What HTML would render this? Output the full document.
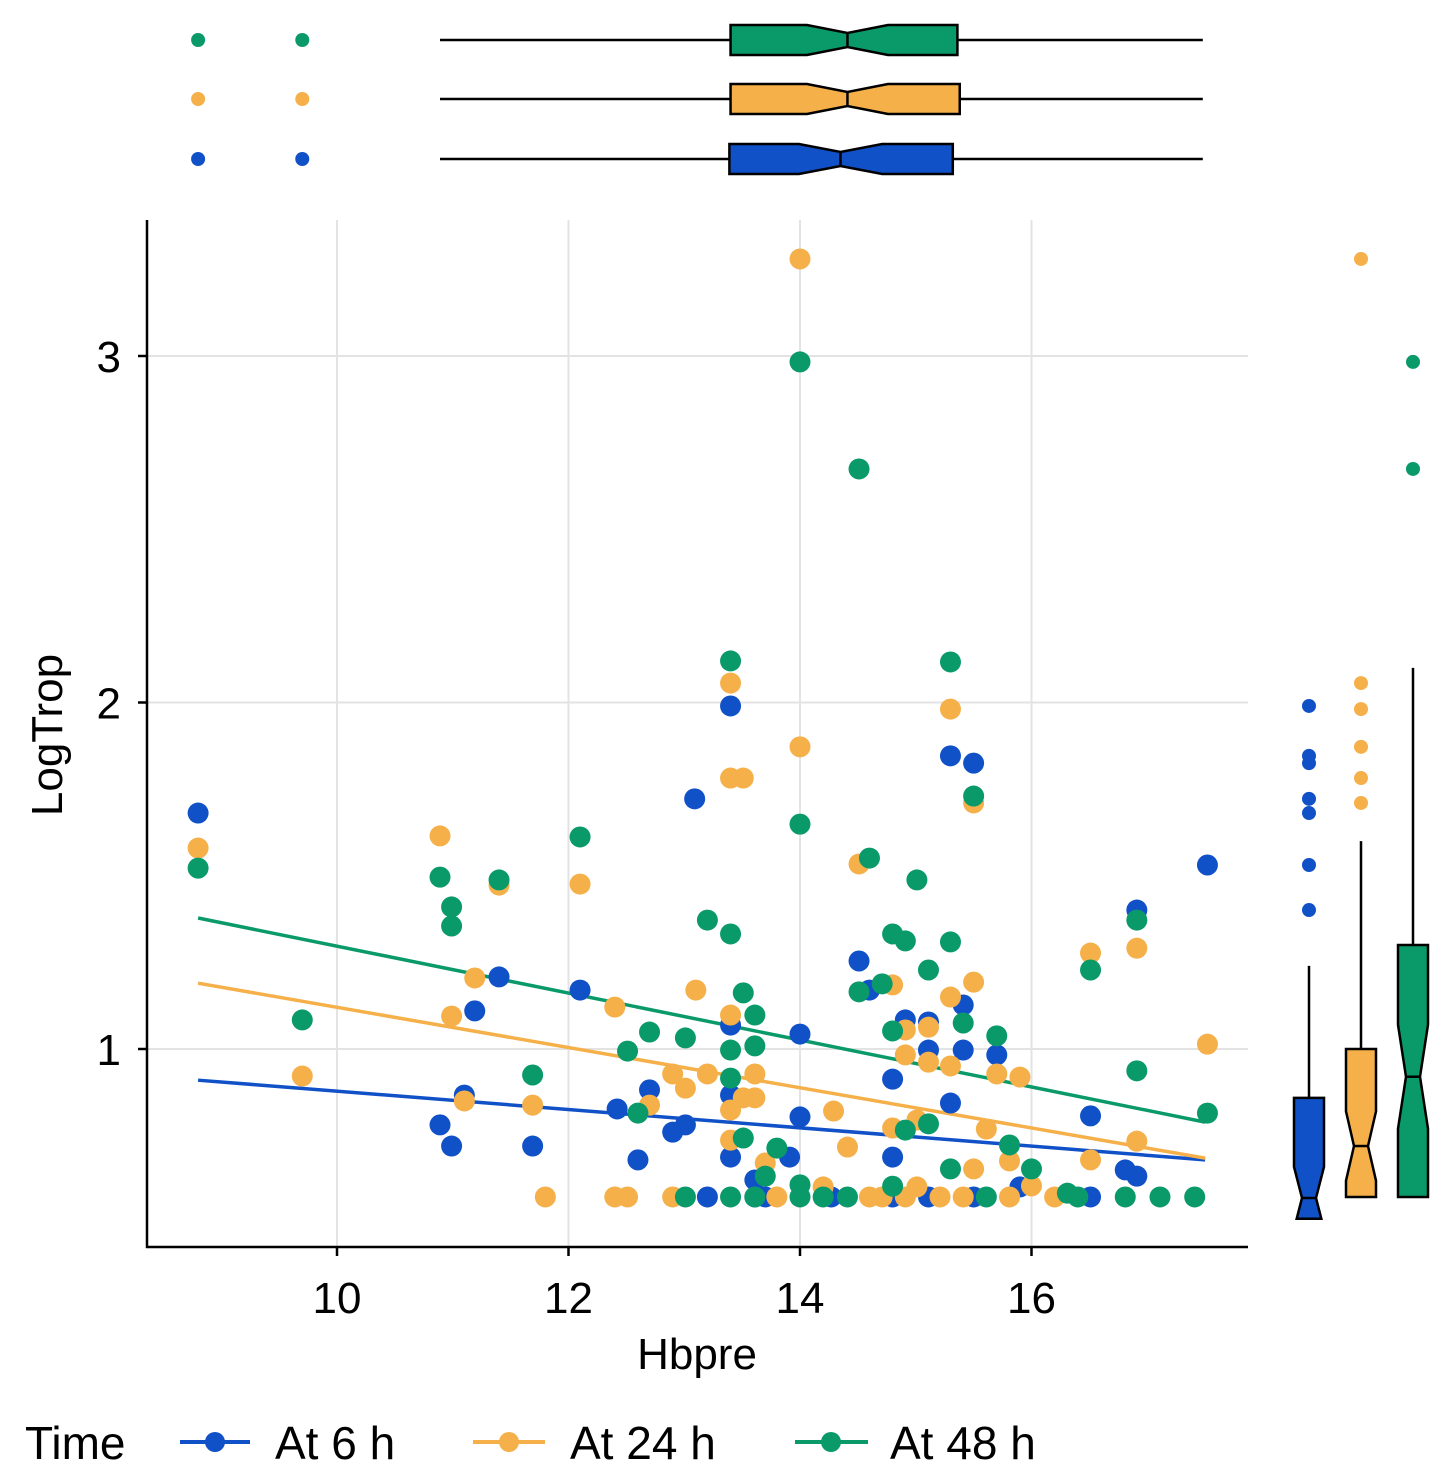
<!DOCTYPE html>
<html><head><meta charset="utf-8"><style>
html,body{margin:0;padding:0;background:#fff;}
svg{display:block;font-family:"Liberation Sans",sans-serif;}
</style></head><body>
<svg id="chart" width="1449" height="1476" viewBox="0 0 1449 1476" xmlns="http://www.w3.org/2000/svg">
<g id="grid"></g>
<g id="lines"></g>
<g id="points"></g>
<g id="axes"></g>
<g id="topbox"></g>
<g id="rightbox"></g>
<text x="697" y="1369" font-size="44" text-anchor="middle" fill="#000">Hbpre</text>
<text transform="translate(62,735) rotate(-90)" font-size="44" text-anchor="middle" fill="#000">LogTrop</text>
<g>
<text x="25" y="1459" font-size="46">Time</text>
<g><line x1="180" y1="1442" x2="250" y2="1442" stroke="#1151c8" stroke-width="4"/><circle cx="215" cy="1442" r="10" fill="#1151c8"/><text x="275" y="1459" font-size="46">At 6 h</text></g>
<g><line x1="473" y1="1442" x2="545" y2="1442" stroke="#f5b04a" stroke-width="4"/><circle cx="509" cy="1442" r="10" fill="#f5b04a"/><text x="570" y="1459" font-size="46">At 24 h</text></g>
<g><line x1="795" y1="1442" x2="868" y2="1442" stroke="#0a9a6a" stroke-width="4"/><circle cx="831" cy="1442" r="10" fill="#0a9a6a"/><text x="890" y="1459" font-size="46">At 48 h</text></g>
</g>
</svg>
<script>
const xTicks = [10, 12, 14, 16];
const yTicks = [1, 2, 3];
const seriesNames = ['At 6 h', 'At 24 h', 'At 48 h'];
const colors = ['#1151c8', '#f5b04a', '#0a9a6a'];
const blue = [[8.80,1.681],[13.09,1.722],[13.40,1.990],[11.40,1.208],[11.19,1.110],[11.10,0.867],[10.89,0.781],[10.99,0.720],[11.69,0.720],[12.10,1.170],[12.42,0.827],[12.60,0.680],[12.70,0.882],[12.90,0.760],[13.01,0.781],[13.40,0.867],[13.40,0.688],[13.40,1.069],[13.61,0.622],[13.70,0.573],[13.91,0.688],[14.00,1.043],[14.00,0.804],[14.51,1.254],[14.60,1.170],[14.80,0.913],[14.80,0.688],[14.91,1.084],[15.11,1.078],[15.11,0.997],[15.30,1.846],[15.50,1.825],[15.41,1.127],[15.41,0.997],[15.30,0.844],[15.70,0.983],[15.90,0.602],[16.51,0.807],[16.81,0.651],[16.91,0.633],[16.91,1.401],[17.52,1.531],[13.20,0.573],[14.27,0.573],[14.80,0.573],[15.11,0.573],[15.50,0.573],[16.51,0.573],[13.61,0.573]];
const orange = [[8.80,1.580],[9.70,0.922],[10.89,1.615],[10.99,1.095],[11.10,0.850],[11.19,1.205],[11.40,1.473],[11.69,0.838],[11.80,0.573],[12.10,1.476],[12.40,1.121],[12.40,0.573],[12.51,0.573],[12.70,0.838],[12.90,0.573],[12.90,0.928],[13.01,0.887],[13.10,1.170],[13.20,0.928],[13.40,2.056],[13.40,1.782],[13.51,1.782],[13.40,1.098],[13.40,0.824],[13.51,0.859],[13.61,0.859],[13.61,0.928],[13.40,0.737],[13.70,0.671],[13.80,0.573],[14.00,1.872],[14.00,3.280],[14.20,0.602],[14.29,0.821],[14.41,0.717],[14.51,1.534],[14.60,0.573],[14.80,1.185],[14.80,0.772],[14.91,0.983],[14.91,1.055],[15.01,0.795],[15.11,1.063],[15.11,0.962],[15.30,1.981],[15.30,1.150],[15.30,0.951],[15.50,1.710],[15.50,1.193],[15.50,0.654],[15.61,0.769],[15.70,0.928],[15.81,0.677],[15.90,0.919],[16.00,0.605],[16.20,0.573],[16.51,1.277],[16.51,0.680],[16.91,1.291],[16.91,0.734],[17.52,1.014],[14.91,0.573],[15.21,0.573],[15.41,0.573],[15.81,0.573],[14.71,0.573],[15.01,0.602]];
const green = [[8.80,1.522],[9.70,1.084],[10.89,1.496],[10.99,1.410],[10.99,1.355],[11.40,1.488],[11.69,0.925],[12.10,1.612],[12.51,0.994],[12.60,0.815],[12.70,1.049],[13.01,1.032],[13.01,0.573],[13.20,1.372],[13.40,2.120],[13.40,1.332],[13.40,0.997],[13.40,0.916],[13.51,1.162],[13.51,0.743],[13.61,1.098],[13.61,1.009],[13.70,0.633],[13.80,0.714],[14.00,2.983],[14.00,1.649],[14.00,0.608],[14.00,0.573],[14.20,0.573],[14.41,0.573],[14.51,2.674],[14.51,1.165],[14.60,1.551],[14.71,1.188],[14.80,1.332],[14.80,1.052],[14.91,1.312],[14.91,0.766],[15.01,1.488],[15.11,1.228],[15.11,0.784],[15.30,2.117],[15.30,1.309],[15.30,0.654],[15.41,1.075],[15.50,1.730],[15.61,0.573],[15.70,1.038],[15.81,0.723],[16.00,0.654],[16.31,0.584],[16.40,0.573],[16.51,1.228],[16.81,0.573],[16.91,1.372],[16.91,0.937],[17.11,0.573],[17.41,0.573],[17.52,0.815],[13.40,0.573],[13.61,0.573],[14.80,0.604]];
const fitBlue = [8.8, 0.910, 17.5, 0.680];
const fitOrange = [8.8, 1.190, 17.5, 0.685];
const fitGreen = [8.8, 1.378, 17.5, 0.789];
const topBoxBlue = [10.89, 13.39, 14.35, 15.32, 17.48, 0.36];
const topBoxOrange = [10.89, 13.40, 14.41, 15.38, 17.48, 0.35];
const topBoxGreen = [10.89, 13.40, 14.41, 15.36, 17.48, 0.35];
const topOutliers = [8.80, 9.70];
const rightBoxBlue = [0.51, 0.51, 0.57, 0.859, 1.24, 0.09];
const rightBoxOrange = [0.573, 0.573, 0.72, 1.0, 1.60, 0.10];
const rightBoxGreen = [0.573, 0.573, 0.92, 1.30, 2.10, 0.15];
const rightOutBlue = [1.990, 1.846, 1.825, 1.722, 1.681, 1.531, 1.401];
const rightOutOrange = [3.280, 2.056, 1.981, 1.872, 1.782, 1.710];
const rightOutGreen = [2.983, 2.674];

const NS = 'http://www.w3.org/2000/svg';
const X = v => 337 + (v - 10) * 115.75;
const Y = v => 1049 - (v - 1) * 346.5;
function mk(tag, attrs, parent) {
  const e = document.createElementNS(NS, tag);
  for (const k in attrs) e.setAttribute(k, attrs[k]);
  parent.appendChild(e);
  return e;
}
const grid = document.getElementById('grid');
xTicks.forEach(t => {
  const l = mk('line', {x1: X(t), x2: X(t), y1: 220, y2: 1247, stroke: '#e3e3e3', 'stroke-width': 2}, grid);
  
  
});
yTicks.forEach(t => {
  const l = mk('line', {x1: 147, x2: 1248, y1: Y(t), y2: Y(t), stroke: '#e3e3e3', 'stroke-width': 2}, grid);
  
  
});
const axes = document.getElementById('axes');
mk('line', {x1: 147, x2: 147, y1: 220, y2: 1248, stroke: '#000', 'stroke-width': 2.5}, axes);
mk('line', {x1: 146, x2: 1248, y1: 1247, y2: 1247, stroke: '#000', 'stroke-width': 2.5}, axes);
xTicks.forEach(t => {
  mk('line', {x1: X(t), x2: X(t), y1: 1247, y2: 1256, stroke: '#000', 'stroke-width': 2.5}, axes);
  const tx = mk('text', {x: X(t), y: 1313, 'font-size': 44, 'text-anchor': 'middle'}, axes);
  tx.textContent = t;
  
  
});
yTicks.forEach(t => {
  mk('line', {x1: 138, x2: 147, y1: Y(t), y2: Y(t), stroke: '#000', 'stroke-width': 2.5}, axes);
  const tx = mk('text', {x: 121, y: Y(t) + 16, 'font-size': 44, 'text-anchor': 'end'}, axes);
  tx.textContent = t;
  
  
});
const lines = document.getElementById('lines');
[fitBlue, fitOrange, fitGreen].forEach((f, i) => {
  const l = mk('line', {x1: X(f[0]), y1: Y(f[1]), x2: X(f[2]), y2: Y(f[3]), stroke: colors[i], 'stroke-width': 3.5}, lines);
  
  
});
const pts = document.getElementById('points');
[blue, orange, green].forEach((s, i) => {
  s.forEach(p => {
    const c = mk('circle', {cx: X(p[0]), cy: Y(p[1]), r: 10.5, fill: colors[i]}, pts);
    
    
  });
});
const tb = document.getElementById('topbox');
const topRows = [159, 99, 40];
[topBoxBlue, topBoxOrange, topBoxGreen].forEach((b, i) => {
  const cy = topRows[i], h = 15, w = 7;
  mk('line', {x1: X(b[0]), x2: X(b[1]), y1: cy, y2: cy, stroke: '#000', 'stroke-width': 2.5}, tb);
  mk('line', {x1: X(b[3]), x2: X(b[4]), y1: cy, y2: cy, stroke: '#000', 'stroke-width': 2.5}, tb);
  const p = [[X(b[1]), cy - h], [X(b[2] - b[5]), cy - h], [X(b[2]), cy - w], [X(b[2] + b[5]), cy - h], [X(b[3]), cy - h],
             [X(b[3]), cy + h], [X(b[2] + b[5]), cy + h], [X(b[2]), cy + w], [X(b[2] - b[5]), cy + h], [X(b[1]), cy + h]];
  const poly = mk('polygon', {points: p.map(q => q.join(',')).join(' '), fill: colors[i], stroke: '#000', 'stroke-width': 2.5}, tb);
  
  
  mk('line', {x1: X(b[2]), x2: X(b[2]), y1: cy - w, y2: cy + w, stroke: '#000', 'stroke-width': 2.5}, tb);
  topOutliers.forEach(o => {
    const c = mk('circle', {cx: X(o), cy: cy, r: 7, fill: colors[i]}, tb);
    
    
  });
});
const rb = document.getElementById('rightbox');
const rCols = [1309, 1361, 1413];
const rOuts = [rightOutBlue, rightOutOrange, rightOutGreen];
[rightBoxBlue, rightBoxOrange, rightBoxGreen].forEach((b, i) => {
  const cx = rCols[i], h = 15, w = 7;
  mk('line', {x1: cx, x2: cx, y1: Y(b[4]), y2: Y(b[3]), stroke: '#000', 'stroke-width': 2.5}, rb);
  const lo = b[2] - b[5];
  let bw = h;
  const loY = Math.max(lo, b[1]);
  if (lo < b[1]) bw = w + (h - w) * (b[2] - b[1]) / b[5];
  const p = [[cx - h, Y(b[3])], [cx + h, Y(b[3])], [cx + h, Y(b[2] + b[5])], [cx + w, Y(b[2])], [cx + bw, Y(loY)]];
  if (lo >= b[1]) p.push([cx + h, Y(b[1])]);
  if (lo >= b[1]) p.push([cx - h, Y(b[1])]);
  p.push([cx - bw, Y(loY)], [cx - w, Y(b[2])], [cx - h, Y(b[2] + b[5])]);
  const poly = mk('polygon', {points: p.map(q => q.join(',')).join(' '), fill: colors[i], stroke: '#000', 'stroke-width': 2.5}, rb);
  
  
  mk('line', {x1: cx - w, x2: cx + w, y1: Y(b[2]), y2: Y(b[2]), stroke: '#000', 'stroke-width': 2.5}, rb);
  rOuts[i].forEach(o => {
    const c = mk('circle', {cx: cx, cy: Y(o), r: 7, fill: colors[i]}, rb);
    
    
  });
});
</script>
</body></html>
